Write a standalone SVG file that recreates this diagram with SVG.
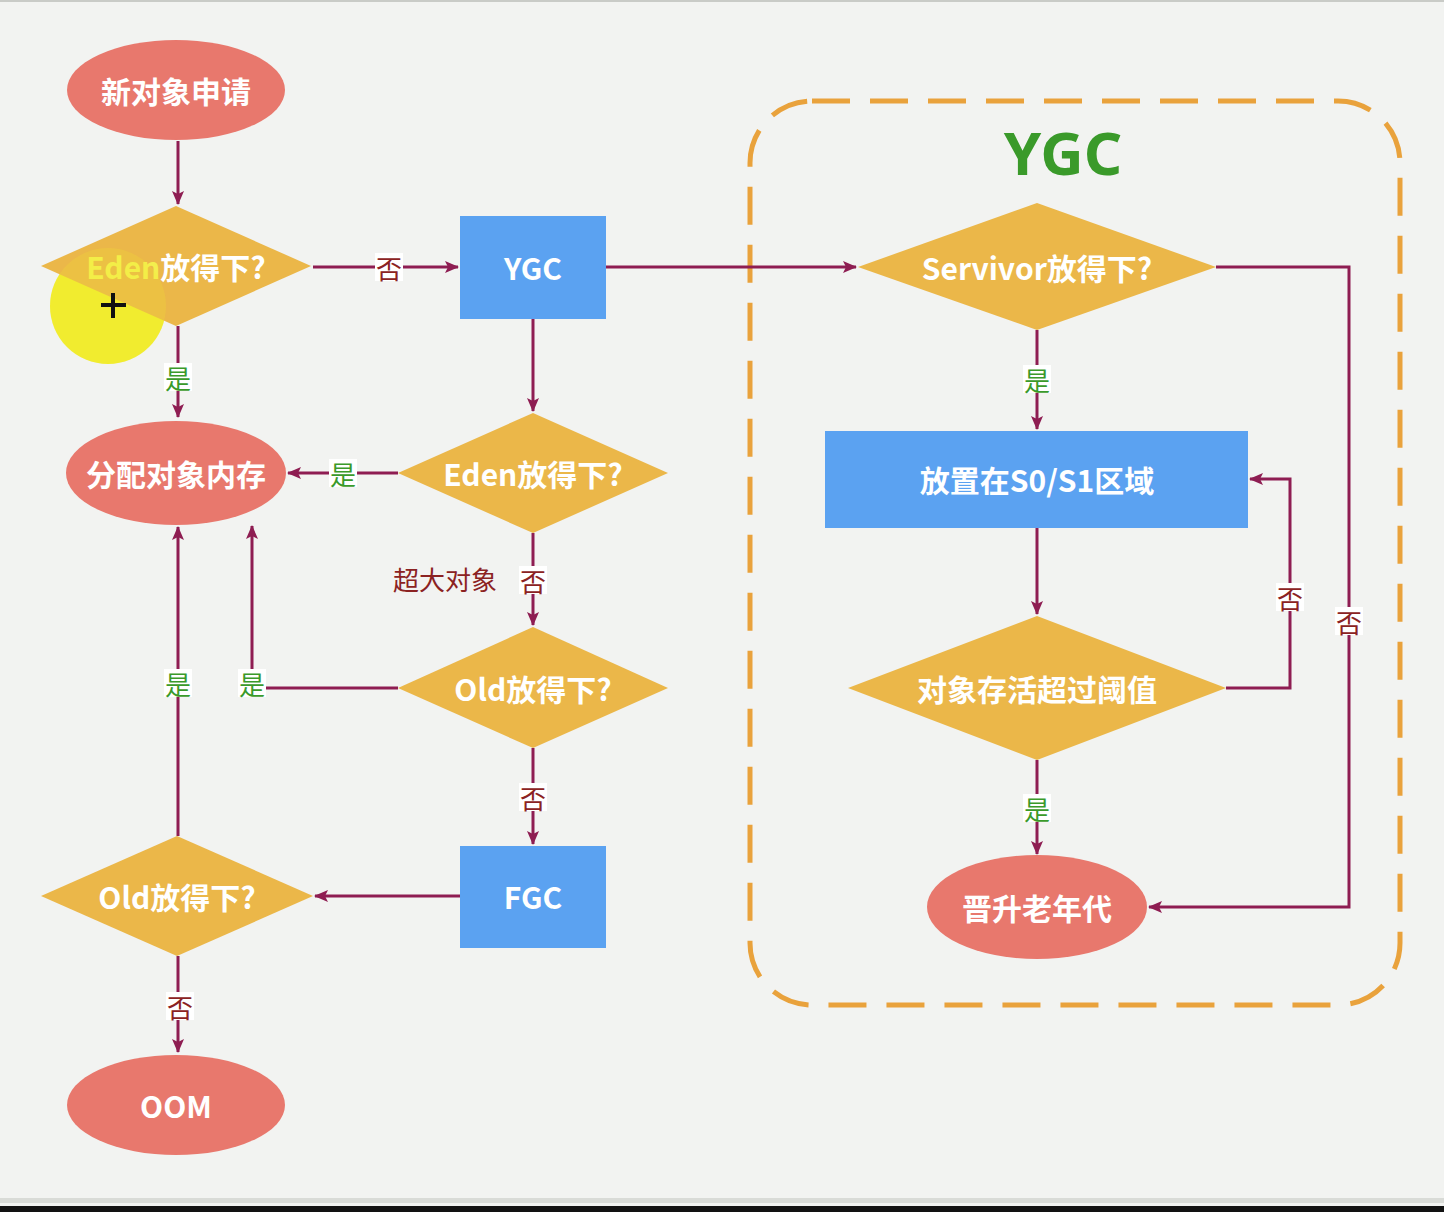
<svg xmlns="http://www.w3.org/2000/svg" width="1444" height="1212" viewBox="0 0 1444 1212">
<defs>
<marker id="ah" markerWidth="14" markerHeight="12" refX="13" refY="6" orient="auto" markerUnits="userSpaceOnUse" viewBox="0 0 14 12"><path d="M0,0 L14,6 L0,12 L3,6 Z" fill="#8e1d52"/></marker>
<style>
.ell{fill:#e8786d}
.dia{fill:#ebb749}
.box{fill:#5ba2f1}
.nt{font-family:"Noto Sans CJK SC","Noto Sans",sans-serif;font-weight:700;font-size:30px;fill:#ffffff;text-anchor:middle;dominant-baseline:central}
.con{fill:none;stroke:#8e1d52;stroke-width:3}
.yes{font-family:"Noto Sans CJK SC",sans-serif;font-size:26px;fill:#3a9a2a;text-anchor:middle;dominant-baseline:central}
.no{font-family:"Noto Sans CJK SC",sans-serif;font-size:26px;fill:#8b2222;text-anchor:middle;dominant-baseline:central}
.lb{fill:#ffffff}
</style>
</defs>
<rect x="0" y="0" width="1444" height="1212" fill="#f2f3f1"/>
<rect x="0" y="0" width="1444" height="2" fill="#c9cbc7"/>
<rect x="0" y="1198" width="1444" height="5" fill="#d9dbd7"/>
<rect x="0" y="1206" width="1444" height="6" fill="#121212"/>

<rect id="ygc-group" x="750" y="101" width="650" height="904" rx="62" ry="62" fill="none" stroke="#e9a23c" stroke-width="5" stroke-dasharray="38,20"/>
<text x="1063" y="152" font-family="'Noto Sans','Open Sans',sans-serif" font-weight="700" font-size="60" fill="#3a9a2a" text-anchor="middle" dominant-baseline="central">YGC</text>

<circle cx="108" cy="306" r="58" fill="#f1ec30"/>

<g id="connectors">
<line class="con" x1="178" y1="141" x2="178" y2="204" marker-end="url(#ah)"/>
<line class="con" x1="313" y1="267" x2="458" y2="267" marker-end="url(#ah)"/>
<line class="con" x1="606" y1="267" x2="856" y2="267" marker-end="url(#ah)"/>
<line class="con" x1="178" y1="326" x2="178" y2="417" marker-end="url(#ah)"/>
<line class="con" x1="533" y1="319" x2="533" y2="411" marker-end="url(#ah)"/>
<line class="con" x1="398" y1="473" x2="288" y2="473" marker-end="url(#ah)"/>
<line class="con" x1="533" y1="533" x2="533" y2="625" marker-end="url(#ah)"/>
<polyline class="con" points="398,688 252,688 252,526" marker-end="url(#ah)"/>
<line class="con" x1="533" y1="748" x2="533" y2="844" marker-end="url(#ah)"/>
<line class="con" x1="460" y1="896" x2="315" y2="896" marker-end="url(#ah)"/>
<line class="con" x1="178" y1="836" x2="178" y2="527" marker-end="url(#ah)"/>
<line class="con" x1="178" y1="956" x2="178" y2="1052" marker-end="url(#ah)"/>
<line class="con" x1="1037" y1="330" x2="1037" y2="429" marker-end="url(#ah)"/>
<line class="con" x1="1037" y1="528" x2="1037" y2="614" marker-end="url(#ah)"/>
<polyline class="con" points="1226,688 1290,688 1290,479 1250,479" marker-end="url(#ah)"/>
<polyline class="con" points="1216,267 1349,267 1349,907 1149,907" marker-end="url(#ah)"/>
<line class="con" x1="1037" y1="760" x2="1037" y2="854" marker-end="url(#ah)"/>

<rect class="lb" x="375" y="253" width="28" height="28"/><text class="no" x="389" y="267">否</text>
<rect class="lb" x="164" y="363" width="28" height="28"/><text class="yes" x="178" y="377">是</text>
<rect class="lb" x="329" y="459" width="28" height="28"/><text class="yes" x="343" y="473">是</text>
<rect class="lb" x="519" y="566" width="28" height="28"/><text class="no" x="533" y="580">否</text>
<text x="445" y="578" font-family="'Noto Sans CJK SC',sans-serif" font-size="26" fill="#8b2222" text-anchor="middle" dominant-baseline="central">超大对象</text>
<rect class="lb" x="238" y="669" width="28" height="28"/><text class="yes" x="252" y="683">是</text>
<rect class="lb" x="164" y="669" width="28" height="28"/><text class="yes" x="178" y="683">是</text>
<rect class="lb" x="519" y="783" width="28" height="28"/><text class="no" x="533" y="797">否</text>
<rect class="lb" x="166" y="992" width="28" height="28"/><text class="no" x="180" y="1006">否</text>
<rect class="lb" x="1023" y="365" width="28" height="28"/><text class="yes" x="1037" y="379">是</text>
<rect class="lb" x="1276" y="583" width="28" height="28"/><text class="no" x="1290" y="597">否</text>
<rect class="lb" x="1335" y="607" width="28" height="28"/><text class="no" x="1349" y="621">否</text>
<rect class="lb" x="1023" y="794" width="28" height="28"/><text class="yes" x="1037" y="808">是</text>
</g>

<g id="n-new"><ellipse class="ell" cx="176" cy="90" rx="109" ry="50"/><text class="nt" x="176" y="90">新对象申请</text></g>
<g id="n-eden1"><polygon class="dia" points="176,206 311,266 176,326 41,266"/><text class="nt" x="176" y="266"><tspan fill="#f3ee4e">Eden</tspan>放得下?</text></g>
<g id="n-ygc"><rect class="box" x="460" y="216" width="146" height="103"/><text class="nt" x="533" y="267">YGC</text></g>
<g id="n-alloc"><ellipse class="ell" cx="176" cy="473" rx="110" ry="52"/><text class="nt" x="176" y="473">分配对象内存</text></g>
<g id="n-eden2"><polygon class="dia" points="533,413 668,473 533,533 398,473"/><text class="nt" x="533" y="473">Eden放得下?</text></g>
<g id="n-old1"><polygon class="dia" points="533,627 668,688 533,748 398,688"/><text class="nt" x="533" y="688">Old放得下?</text></g>
<g id="n-fgc"><rect class="box" x="460" y="846" width="146" height="102"/><text class="nt" x="533" y="896">FGC</text></g>
<g id="n-old2"><polygon class="dia" points="177,836 313,896 177,956 41,896"/><text class="nt" x="177" y="896">Old放得下?</text></g>
<g id="n-oom"><ellipse class="ell" cx="176" cy="1105" rx="109" ry="50"/><text class="nt" x="176" y="1105">OOM</text></g>
<g id="n-surv"><polygon class="dia" points="1037,203 1216,267 1037,330 858,267"/><text class="nt" x="1037" y="267">Servivor放得下?</text></g>
<g id="n-s0s1"><rect class="box" x="825" y="431" width="423" height="97"/><text class="nt" x="1037" y="479">放置在S0/S1区域</text></g>
<g id="n-thr"><polygon class="dia" points="1037,616 1226,688 1037,760 848,688"/><text class="nt" x="1037" y="688">对象存活超过阈值</text></g>
<g id="n-promote"><ellipse class="ell" cx="1037" cy="907" rx="110" ry="52"/><text class="nt" x="1037" y="907">晋升老年代</text></g>

<circle cx="108" cy="306" r="58" fill="#f3ee2a" fill-opacity="0.18"/>
<path d="M113,293 V318 M101,305 H126" stroke="#111" stroke-width="4"/>
</svg>
